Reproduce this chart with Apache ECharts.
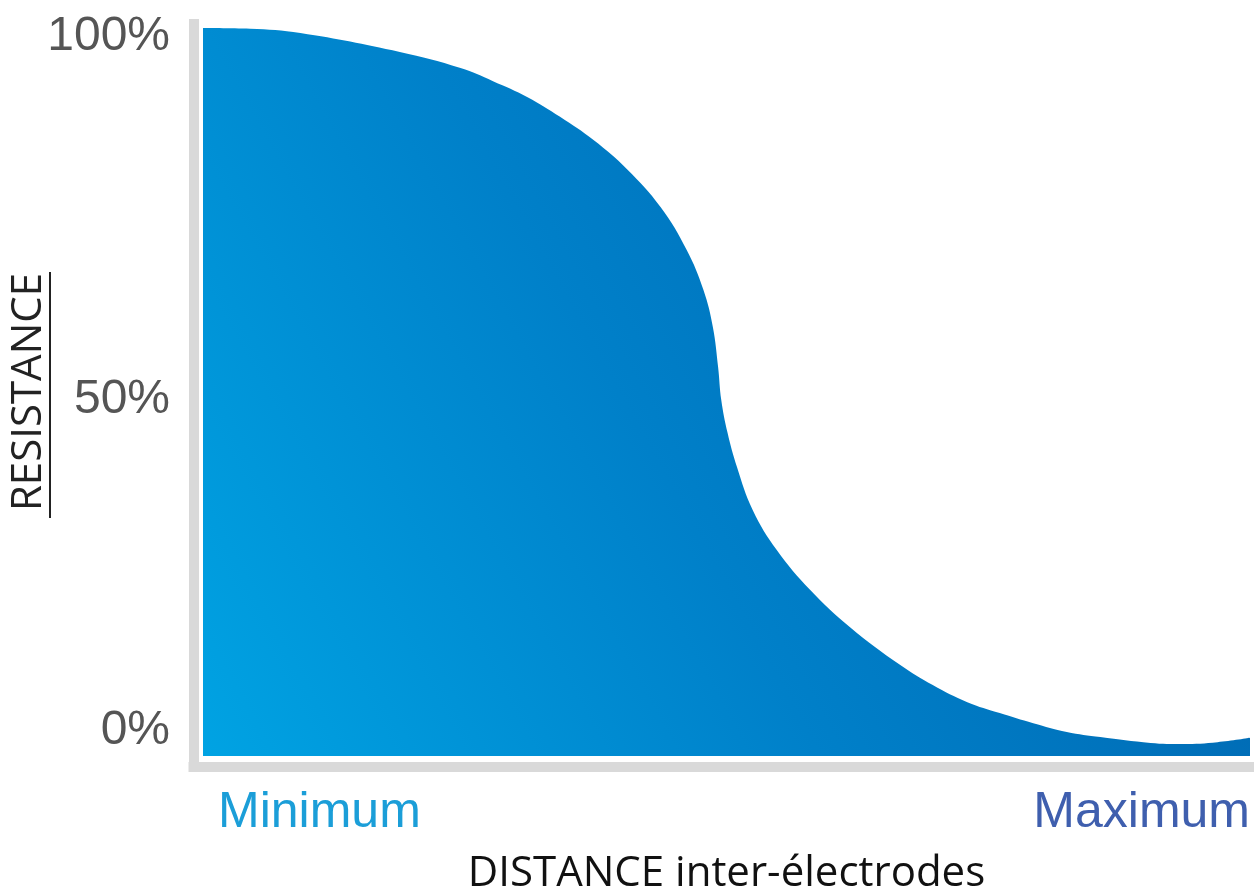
<!DOCTYPE html>
<html>
<head>
<meta charset="utf-8">
<script src="https://cdn.jsdelivr.net/npm/echarts@6/dist/echarts.min.js"></script>
<style>
html,body{margin:0;padding:0;background:#fff;}
#chart{width:1254px;height:895px;}
</style>
</head>
<body>
<div id="chart"></div>
<script>
// Distance (% of range, Minimum -> Maximum)
var distance = [0, 4.5, 9.3, 18.8, 24.6, 27.7, 31.0, 34.1, 37.3, 40.5, 43.7, 46.2, 47.8, 48.7, 49.2, 49.5, 50.1, 51.0, 52.5, 54.8, 58.0, 61.8, 66.6, 69.7, 73.0, 76.1, 79.3, 82.5, 85.7, 90.5, 93.6, 96.9, 100];
// Resistance (%)
var resistance = [100, 99.9, 99.3, 96.7, 94.5, 92.7, 90.5, 87.8, 84.6, 80.6, 75.4, 69.5, 64.0, 58.9, 53.4, 48.9, 44.4, 39.7, 33.8, 28.3, 22.8, 17.7, 12.5, 9.75, 7.4, 5.9, 4.5, 3.3, 2.6, 1.8, 1.65, 1.9, 2.5];
var yTickLabels = ['0%', '50%', '100%'];
var xTickLabels = ['Minimum', 'Maximum'];
var xTitle = 'DISTANCE inter-électrodes';
var yTitle = 'RESISTANCE';

var points = distance.map(function (d, i) { return [d, resistance[i]]; });

var chart = echarts.init(document.getElementById('chart'), null, {renderer: 'canvas'});
var option = {
  animation: false,
  backgroundColor: '#ffffff',
  grid: [
    {left: 203, right: 4, top: 28, bottom: 139, containLabel: false, outerBoundsMode: 'none'},
    {left: 193.5, right: 4, top: 24, bottom: 128, containLabel: false, outerBoundsMode: 'none'}
  ],
  xAxis: [
    {
      gridIndex: 0, type: 'value', min: 0, max: 100, interval: 100,
      axisLine: {show: false}, axisTick: {show: false}, splitLine: {show: false},
      axisLabel: {
        margin: 32,
        alignMinLabel: 'left', alignMaxLabel: 'right',
        formatter: function (v) { return v === 0 ? '{mn|' + xTickLabels[0] + '}' : '{mx|' + xTickLabels[1] + '}'; },
        rich: {
          mn: {fontFamily: 'Liberation Sans, Arial, sans-serif', fontSize: 50, color: '#1b9ed8', padding: [0, 0, 0, 15]},
          mx: {fontFamily: 'Liberation Sans, Arial, sans-serif', fontSize: 50, color: '#3f5fae'}
        }
      },
      name: xTitle, nameLocation: 'middle', nameGap: 97, nameMoveOverlap: false,
      nameTextStyle: {fontFamily: 'Open Sans, sans-serif', fontSize: 42, color: '#111111'}
    },
    {
      gridIndex: 1, type: 'value', min: 0, max: 100,
      axisLine: {show: true, lineStyle: {color: '#d9d9d9', width: 10, cap: 'square'}},
      axisTick: {show: false}, axisLabel: {show: false}, splitLine: {show: false}
    }
  ],
  yAxis: [
    {
      gridIndex: 0, type: 'value', min: 0, max: 100, interval: 50,
      axisLine: {show: false}, axisTick: {show: false}, splitLine: {show: false},
      axisLabel: {
        margin: 33,
        formatter: function (v) {
          if (v === 100) return '{t|' + yTickLabels[2] + '}';
          if (v === 50) return '{m|' + yTickLabels[1] + '}';
          return '{b|' + yTickLabels[0] + '}';
        },
        rich: {
          t: {fontFamily: 'Liberation Sans, Arial, sans-serif', fontSize: 48, color: '#555555', padding: [18, 0, 0, 0]},
          m: {fontFamily: 'Liberation Sans, Arial, sans-serif', fontSize: 48, color: '#555555', padding: [16, 0, 0, 0]},
          b: {fontFamily: 'Liberation Sans, Arial, sans-serif', fontSize: 48, color: '#555555', padding: [0, 0, 50, 0]}
        }
      },
      name: yTitle, nameLocation: 'middle', nameGap: 153, nameRotate: 90, nameMoveOverlap: false,
      nameTextStyle: {fontFamily: 'Open Sans, sans-serif', fontSize: 42, color: '#222222'}
    },
    {
      gridIndex: 1, type: 'value', min: 0, max: 100,
      axisLine: {show: true, lineStyle: {color: '#d9d9d9', width: 10, cap: 'square'}},
      axisTick: {show: false}, axisLabel: {show: false}, splitLine: {show: false}
    }
  ],
  graphic: [
    {type: 'line', shape: {x1: 50, y1: 272, x2: 50, y2: 518}, style: {stroke: '#222222', lineWidth: 2}}
  ],
  series: [
    {
      type: 'line', xAxisIndex: 0, yAxisIndex: 0,
      data: points, smooth: 0.4,
      symbol: 'none',
      lineStyle: {width: 0},
      areaStyle: {
        opacity: 1,
        color: new echarts.graphic.LinearGradient(0, 1, 1, 0.2, [
          {offset: 0, color: '#00a3e3'},
          {offset: 0.45, color: '#0080c9'},
          {offset: 1, color: '#0060aa'}
        ])
      }
    }
  ]
};
chart.setOption(option);
</script>
</body>
</html>
